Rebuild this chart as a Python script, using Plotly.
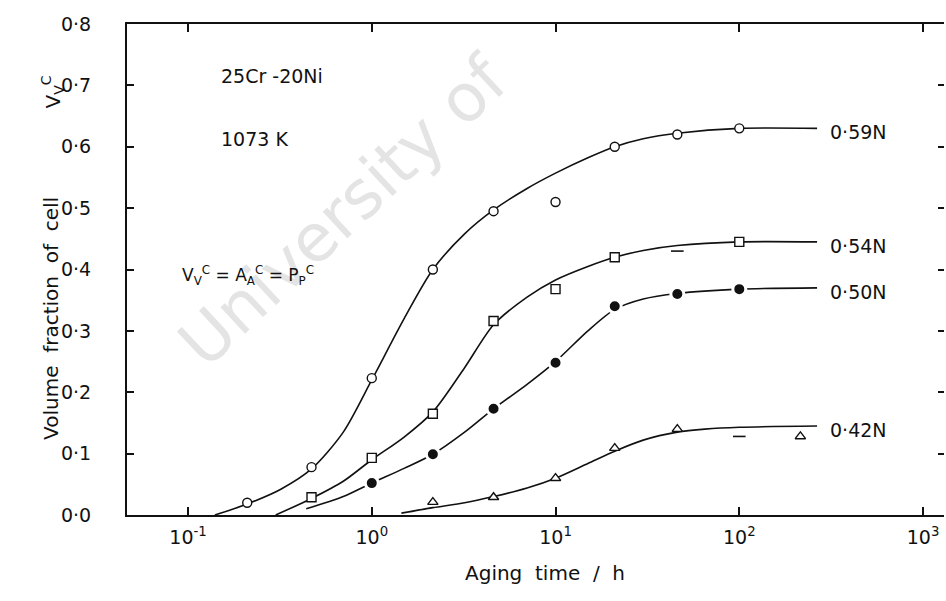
import plotly.graph_objects as go

# ---- measured points (aging time in h, cell volume fraction) ----
t59 = [0.21, 0.47, 1.0, 2.15, 4.6, 10, 21, 46, 100]
v59 = [0.020, 0.078, 0.223, 0.400, 0.495, 0.510, 0.600, 0.620, 0.630]

t54 = [0.47, 1.0, 2.15, 4.6, 10, 21, 100]
v54 = [0.029, 0.093, 0.165, 0.316, 0.368, 0.420, 0.445]
t54_dash = [46]
v54_dash = [0.430]

t50 = [1.0, 2.15, 4.6, 10, 21, 46, 100]
v50 = [0.052, 0.099, 0.173, 0.248, 0.340, 0.360, 0.368]

t42 = [2.15, 4.6, 10, 21, 46, 215]
v42 = [0.021, 0.029, 0.060, 0.109, 0.140, 0.128]
t42_dash = [100]
v42_dash = [0.128]

# ---- fitted curves (knots) ----
c59_t = [0.14, 0.21, 0.32, 0.47, 0.7, 1.0, 1.5, 2.15, 3.2, 4.6, 7, 10, 15, 21, 30, 46, 100, 265]
c59_v = [0.0, 0.018, 0.042, 0.075, 0.135, 0.22, 0.32, 0.40, 0.458, 0.497, 0.532, 0.557,
         0.582, 0.600, 0.613, 0.622, 0.630, 0.630]

c54_t = [0.30, 0.47, 0.7, 1.0, 1.5, 2.15, 3.2, 4.6, 7, 10, 15, 21, 30, 46, 100, 265]
c54_v = [0.0, 0.027, 0.055, 0.090, 0.127, 0.168, 0.240, 0.310, 0.355, 0.383, 0.405,
         0.420, 0.431, 0.439, 0.445, 0.445]

c50_t = [0.44, 0.7, 1.0, 1.5, 2.15, 3.2, 4.6, 7, 10, 15, 21, 30, 46, 100, 265]
c50_v = [0.010, 0.030, 0.052, 0.076, 0.099, 0.135, 0.173, 0.213, 0.250, 0.300, 0.335,
         0.352, 0.361, 0.368, 0.370]

c42_t = [1.45, 2.15, 3.2, 4.6, 7, 10, 15, 21, 30, 46, 65, 100, 265]
c42_v = [0.003, 0.012, 0.020, 0.030, 0.044, 0.060, 0.084, 0.104, 0.122, 0.135, 0.140,
         0.143, 0.145]

series_names = ["0.59N", "0.54N", "0.50N", "0.42N"]
series_ends = [c59_v[-1], c54_v[-1], c50_v[-1], c42_v[-1]]

x_tickvals = [0.1, 1, 10, 100, 1000]
x_ticktext = ["10<sup>-1</sup>", "10<sup>0</sup>", "10<sup>1</sup>",
              "10<sup>2</sup>", "10<sup>3</sup>"]
y_tickvals = [0.0, 0.1, 0.2, 0.3, 0.4, 0.5, 0.6, 0.7, 0.8]
y_ticktext = ["0·0", "0·1", "0·2", "0·3", "0·4", "0·5", "0·6", "0·7", "0·8"]

FONT = "DejaVu Sans"
INK = "#111111"

fig = go.Figure()

curve_style = dict(mode="lines", line=dict(color=INK, width=1.6, shape="spline",
                                            smoothing=0.8), hoverinfo="skip",
                   showlegend=False)
for ct, cv in [(c59_t, c59_v), (c54_t, c54_v), (c50_t, c50_v), (c42_t, c42_v)]:
    fig.add_trace(go.Scatter(x=ct, y=cv, **curve_style))

open_marker = dict(color="white", size=9, line=dict(color=INK, width=1.4))
fig.add_trace(go.Scatter(x=t59, y=v59, mode="markers", showlegend=False,
                         marker=dict(symbol="circle", **open_marker)))
fig.add_trace(go.Scatter(x=t54, y=v54, mode="markers", showlegend=False,
                         marker=dict(symbol="square", **open_marker)))
fig.add_trace(go.Scatter(x=t54_dash, y=v54_dash, mode="markers", showlegend=False,
                         marker=dict(symbol="line-ew", size=9,
                                     line=dict(color=INK, width=1.6))))
fig.add_trace(go.Scatter(x=t50, y=v50, mode="markers", showlegend=False,
                         marker=dict(symbol="circle", size=13, color=INK,
                                     line=dict(color="white", width=3))))
fig.add_trace(go.Scatter(x=t42, y=v42, mode="markers", showlegend=False,
                         marker=dict(symbol="triangle-up", **open_marker)))
fig.add_trace(go.Scatter(x=t42_dash, y=v42_dash, mode="markers", showlegend=False,
                         marker=dict(symbol="line-ew", size=9,
                                     line=dict(color=INK, width=1.6))))
# carrier for the right-hand tick axis
fig.add_trace(go.Scatter(x=[1], y=[0], yaxis="y2", mode="markers",
                         marker=dict(opacity=0), showlegend=False,
                         hoverinfo="skip"))

annotations = []
for name, yv in zip(series_names, series_ends):
    annotations.append(dict(x=0.858, xref="paper", y=yv, yref="y",
                            text=name.replace(".", "·"), showarrow=False,
                            xanchor="left", yanchor="middle", yshift=-4,
                            font=dict(family=FONT, size=19, color=INK)))

annotations += [
    dict(x=0.113, xref="paper", y=0.715, yref="y", text="25Cr -20Ni",
         showarrow=False, xanchor="left",
         font=dict(family=FONT, size=19, color=INK)),
    dict(x=0.113, xref="paper", y=0.612, yref="y", text="1073 K",
         showarrow=False, xanchor="left",
         font=dict(family=FONT, size=19, color=INK)),
    dict(x=0.065, xref="paper", y=0.39, yref="y",
         text="V<sub>V</sub><sup>C</sup> = A<sub>A</sub><sup>C</sup> = P<sub>P</sub><sup>C</sup>",
         showarrow=False, xanchor="left",
         font=dict(family=FONT, size=17, color=INK)),
    # axis titles
    dict(x=0.512, xref="paper", y=-0.118, yref="paper", showarrow=False,
         text="Aging  time  /  h", yanchor="middle",
         font=dict(family=FONT, size=20, color=INK)),
    dict(x=-0.111, xref="paper", y=0.40, yref="paper", showarrow=False,
         text="Volume  fraction  of  cell", textangle=-90,
         font=dict(family=FONT, size=20, color=INK)),
    dict(x=-0.111, xref="paper", y=0.90, yref="paper", showarrow=False,
         text="V<sub>V</sub><sup>C</sup>", textangle=-90,
         font=dict(family=FONT, size=20, color=INK)),
]

axis_common = dict(showgrid=False, zeroline=False, linecolor=INK, linewidth=2,
                   tickcolor=INK, ticks="inside", tickwidth=1.5,
                   tickfont=dict(family=FONT, size=19, color=INK))

fig.update_layout(
    width=946, height=601,
    margin=dict(l=127, r=2, t=24, b=86),
    paper_bgcolor="white", plot_bgcolor="white",
    showlegend=False,
    xaxis=dict(type="log", range=[-1.332, 3.114], tickvals=x_tickvals,
               ticktext=x_ticktext, ticklen=8, showline=True, mirror="ticks",
               ticklabelstandoff=4, **axis_common),
    yaxis=dict(range=[0, 0.8], tickvals=y_tickvals, ticktext=y_ticktext,
               ticklen=7, showline=True, mirror=False,
               ticklabelstandoff=30, **axis_common),
    yaxis2=dict(range=[0, 0.8], overlaying="y", side="right",
                tickvals=y_tickvals, showticklabels=False, ticks="inside",
                ticklen=6, tickcolor=INK, tickwidth=1.5, showline=False,
                showgrid=False, zeroline=False),
    annotations=annotations,
    # faint diagonal watermark behind the data
    shapes=[dict(type="rect", xref="paper", yref="paper",
                 x0=0.0, x1=0.52, y0=0.25, y1=1.0, layer="below",
                 line=dict(width=0), fillcolor="rgba(0,0,0,0)",
                 label=dict(text="University of", textangle=-43,
                            font=dict(family=FONT, size=66, color="#e4e4e4")))],
)

fig.write_html("out.html")
